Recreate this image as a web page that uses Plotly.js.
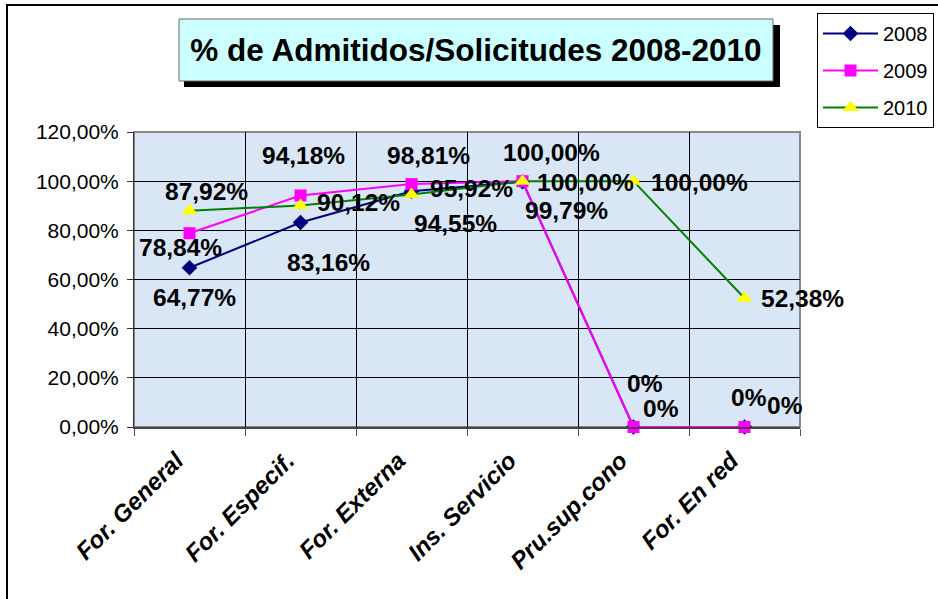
<!DOCTYPE html>
<html>
<head>
<meta charset="utf-8">
<script src="https://cdn.plot.ly/plotly-3.0.1.min.js"></script>
<style>html,body{margin:0;padding:0;background:#fff;}#chart{width:938px;height:599px;}</style>
</head>
<body>
<div id="chart"></div>
<script>
// ---- data ----
const categories = ["For. General", "For. Especif.", "For. Externa", "Ins. Servicio", "Pru.sup.cono", "For. En red"];
const seriesNames = ["2008", "2009", "2010"];
const v2008 = [64.77, 83.16, 95.92, 99.79, 0, 0];
const v2009 = [78.84, 94.18, 98.81, 100.00, 0, 0];
const v2010 = [87.92, 90.12, 94.55, 100.00, 100.00, 52.38];
const yTickVals = [0, 20, 40, 60, 80, 100, 120];
const yTickText = ["0,00%", "20,00%", "40,00%", "60,00%", "80,00%", "100,00%", "120,00%"];
const chartTitle = "% de Admitidos/Solicitudes 2008-2010";

// ---- label offsets (style: pixel shifts of each data label from its point) ----
const off2008 = [[5,-30],[28,-40],[60,3],[44,-29],[27,19],[40,22]];
const off2009 = [[-9,-14],[3,40],[17,29],[29,29],[11,44],[4,30]];
const off2010 = [[17,19],[58,3],[44,-29],[63,-1],[66,-1],[58,0]];

// ---- layout geometry ----
const W = 938, H = 599;
const M = {l: 134, r: 138, t: 132, b: 172};
const PW = W - M.l - M.r, PH = H - M.t - M.b;
const px = x => (x - M.l) / PW;          // pixel x -> paper x
const py = y => (H - M.b - y) / PH;      // pixel y -> paper y

const FONT = "Liberation Sans, Arial, sans-serif";
const fmt = v => v === 0 ? "0%" : v.toFixed(2).replace(".", ",") + "%";

const colors = {line: ["#000080", "#FF00FF", "#008000"], marker: ["#000080", "#FF00FF", "#FFFF00"]};
const symbols = ["diamond", "square", "triangle-up"];
const msizes = [12, 12, 14];
const allVals = [v2008, v2009, v2010];
const allOffs = [off2008, off2009, off2010];

const traces = allVals.map((vals, i) => ({
  type: "scatter", mode: "lines+markers",
  name: seriesNames[i], x: categories, y: vals,
  legendgroup: seriesNames[i],
  line: {color: colors.line[i], width: 2},
  marker: {symbol: symbols[i], size: msizes[i], color: colors.marker[i], line: {width: 0}},
  cliponaxis: false
}));

const annotations = [];
allVals.forEach((vals, i) => {
  vals.forEach((v, j) => {
    annotations.push({
      x: categories[j], y: v, xref: "x", yref: "y",
      text: fmt(v), showarrow: false,
      xshift: allOffs[i][j][0], yshift: allOffs[i][j][1],
      xanchor: "center", yanchor: "middle",
      font: {family: FONT, size: 24.5, color: "#000", weight: "bold"}
    });
  });
});

const shapes = [
  // outer chart border
  {type: "rect", xref: "paper", yref: "paper", x0: px(7), x1: px(1200), y0: py(5), y1: py(900),
   line: {color: "#000", width: 2}, fillcolor: "rgba(0,0,0,0)", layer: "below"},
  // title shadow
  {type: "rect", xref: "paper", yref: "paper", x0: px(184), x1: px(780), y0: py(87), y1: py(25),
   line: {width: 0}, fillcolor: "#000", layer: "above"},
  // title box
  {type: "rect", xref: "paper", yref: "paper", x0: px(179), x1: px(773), y0: py(81), y1: py(19),
   line: {color: "#666", width: 1}, fillcolor: "#CCFFFF", layer: "above"},
  // plot area border (gray)
  {type: "rect", xref: "paper", yref: "paper", x0: 0, x1: 1, y0: 0, y1: 1,
   line: {color: "#888", width: 2}, fillcolor: "rgba(0,0,0,0)", layer: "below"}
];

const layout = {
  width: W, height: H,
  margin: {l: M.l, r: M.r, t: M.t, b: M.b, autoexpand: false},
  paper_bgcolor: "#FFFFFF",
  plot_bgcolor: "#D9E6F5",
  font: {family: FONT, color: "#000"},
  title: {
    text: chartTitle, x: 476 / W, y: 1 - 50 / H, xref: "container", yref: "container",
    xanchor: "center", yanchor: "middle",
    font: {family: FONT, size: 31.5, color: "#000", weight: "bold"}
  },
  xaxis: {
    type: "category", range: [-0.5, 5.5], tickson: "boundaries",
    showgrid: true, gridcolor: "#000", gridwidth: 1,
    ticks: "outside", ticklen: 7, tickcolor: "#555", tickwidth: 1,
    showline: true, linecolor: "#444", linewidth: 2, mirror: false,
    tickangle: -45, ticklabelstandoff: 8, ticklabelshift: -13,
    tickfont: {family: FONT, size: 24, color: "#000", weight: "bold", style: "italic"},
    fixedrange: true
  },
  yaxis: {
    range: [0, 120], tickmode: "array", tickvals: yTickVals, ticktext: yTickText,
    showgrid: true, gridcolor: "#000", gridwidth: 1, zeroline: false,
    ticks: "outside", ticklen: 6, tickcolor: "#333",
    showline: true, linecolor: "#333", linewidth: 1,
    ticklabelstandoff: 4,
    tickfont: {family: FONT, size: 21, color: "#000"},
    fixedrange: true
  },
  legend: {
    x: px(817), y: py(13), xanchor: "left", yanchor: "top",
    bgcolor: "#FFFFFF", bordercolor: "#000", borderwidth: 1,
    font: {family: FONT, size: 20, color: "#000"},
    itemwidth: 55, traceorder: "grouped", tracegroupgap: 8
  },
  showlegend: true,
  shapes: shapes,
  annotations: annotations
};

Plotly.newPlot("chart", traces, layout, {displayModeBar: false, staticPlot: true});
</script>
</body>
</html>
